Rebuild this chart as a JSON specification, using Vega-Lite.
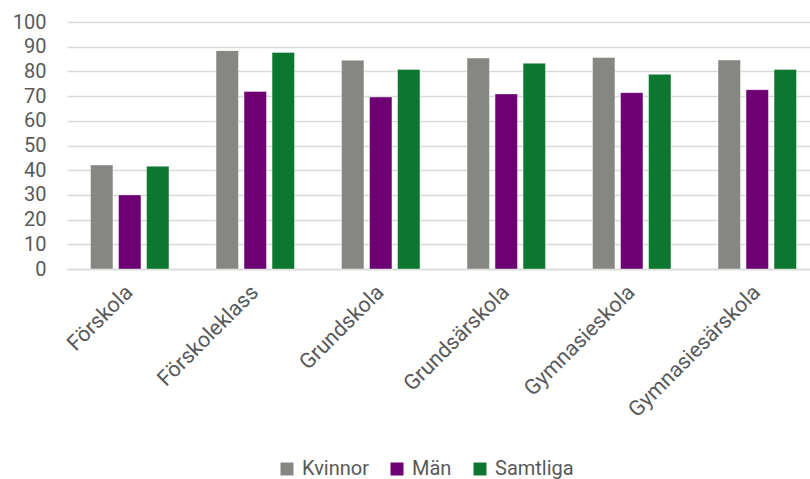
{
  "$schema": "https://vega.github.io/schema/vega-lite/v6.json",
  "autosize": {"type": "none"},
  "width": 753,
  "height": 247,
  "padding": {"left": 67, "top": 22, "right": 0, "bottom": 210},
  "background": "white",
  "config": {
    "font": "Roboto",
    "view": {"stroke": null},
    "axis": {"labelFont": "Roboto", "labelColor": "#595959", "labelFontSize": 20}
  },
  "data": {
    "values": [
      {"skola": "Förskola", "grupp": "Kvinnor", "v": 42.1},
      {"skola": "Förskola", "grupp": "Män", "v": 30.0},
      {"skola": "Förskola", "grupp": "Samtliga", "v": 41.6},
      {"skola": "Förskoleklass", "grupp": "Kvinnor", "v": 88.4},
      {"skola": "Förskoleklass", "grupp": "Män", "v": 71.9},
      {"skola": "Förskoleklass", "grupp": "Samtliga", "v": 87.7},
      {"skola": "Grundskola", "grupp": "Kvinnor", "v": 84.5},
      {"skola": "Grundskola", "grupp": "Män", "v": 69.6},
      {"skola": "Grundskola", "grupp": "Samtliga", "v": 80.8},
      {"skola": "Grundsärskola", "grupp": "Kvinnor", "v": 85.4},
      {"skola": "Grundsärskola", "grupp": "Män", "v": 70.9},
      {"skola": "Grundsärskola", "grupp": "Samtliga", "v": 83.3},
      {"skola": "Gymnasieskola", "grupp": "Kvinnor", "v": 85.6},
      {"skola": "Gymnasieskola", "grupp": "Män", "v": 71.4},
      {"skola": "Gymnasieskola", "grupp": "Samtliga", "v": 78.8},
      {"skola": "Gymnasiesärskola", "grupp": "Kvinnor", "v": 84.6},
      {"skola": "Gymnasiesärskola", "grupp": "Män", "v": 72.6},
      {"skola": "Gymnasiesärskola", "grupp": "Samtliga", "v": 80.8}
    ]
  },
  "mark": {"type": "bar", "stroke": "white", "strokeOpacity": 0.4, "strokeWidth": 1},
  "encoding": {
    "x": {
      "field": "skola", "type": "nominal", "sort": null, "title": null,
      "scale": {"paddingInner": 0.375, "paddingOuter": 0.1875},
      "axis": {"labelAngle": -45, "labelAlign": "right", "labelBaseline": "middle", "labelPadding": 20, "labelFontSize": 21.5, "ticks": false, "domainColor": "#d9d9d9", "domainWidth": 1.5}
    },
    "xOffset": {
      "field": "grupp", "type": "nominal", "sort": ["Kvinnor", "Män", "Samtliga"],
      "scale": {"paddingInner": 0.2, "paddingOuter": 0}
    },
    "y": {
      "field": "v", "type": "quantitative", "title": null,
      "scale": {"domain": [0, 100]},
      "axis": {"values": [0,10,20,30,40,50,60,70,80,90,100], "grid": true, "gridColor": "#d9d9d9", "gridWidth": 1.5, "domain": false, "ticks": false, "labelPadding": 21}
    },
    "color": {
      "field": "grupp", "type": "nominal", "sort": ["Kvinnor", "Män", "Samtliga"],
      "scale": {"domain": ["Kvinnor", "Män", "Samtliga"], "range": ["#868782", "#6d0073", "#0b772f"]},
      "legend": {
        "title": null, "orient": "none", "direction": "horizontal",
        "legendX": 210, "legendY": 437,
        "symbolType": "square", "symbolSize": 169, "symbolStrokeWidth": 0,
        "labelFont": "Roboto", "labelFontSize": 20, "labelColor": "#595959",
        "labelOffset": 5, "columnPadding": 18
      }
    }
  }
}
